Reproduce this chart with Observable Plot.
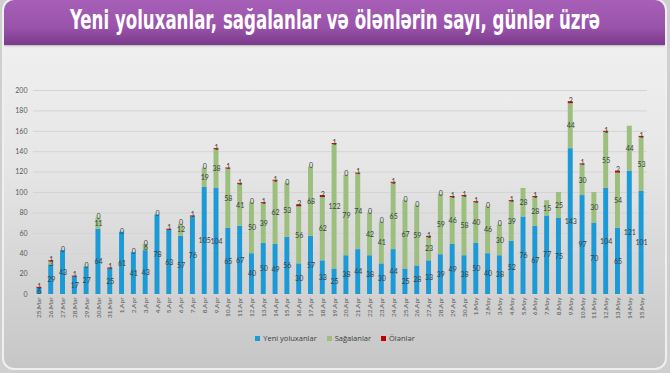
<!DOCTYPE html>
<html><head><meta charset="utf-8">
<script src="https://cdn.jsdelivr.net/npm/d3@7"></script>
<script src="https://cdn.jsdelivr.net/npm/@observablehq/plot@0.6"></script>
<style>
html,body{margin:0;padding:0}
body{width:670px;height:373px;overflow:hidden;background:#cfcfcf;position:relative;font-family:Lato,"Open Sans",sans-serif}
#panel{position:absolute;left:2px;top:-2px;width:665px;height:372px;border-radius:12px;background:linear-gradient(#f3f3f3 0%,#e6e6e6 45%,#c6c6c6 100%);border:2px solid #efefef;box-sizing:border-box;overflow:hidden}
#head{position:absolute;left:0;top:0;width:100%;height:45px;background:linear-gradient(#a75fb7 0%,#9a53aa 60%,#7a3b8b 100%);box-shadow:0 1px 2px rgba(0,0,0,0.25)}
#title{position:absolute;left:0;top:5px;white-space:nowrap;color:#fff;font-family:"Liberation Sans Narrow","DejaVu Sans Condensed","Roboto Condensed",Roboto,sans-serif;font-stretch:condensed;font-weight:bold;font-size:27px;line-height:30px;transform-origin:0 0}
#chart{position:absolute;left:0;top:48px}
#legend{position:absolute;left:0;top:332px;width:670px;text-align:center;font-size:7.5px;color:#404040;font-family:"Open Sans",Lato,sans-serif}
#legend span.it{display:inline-block;margin:0 5px;vertical-align:middle}
#legend i{display:inline-block;width:5px;height:5px;margin-right:3px;vertical-align:middle;position:relative;top:-1px}
</style></head>
<body>
<div id="panel"><div id="head"></div></div>
<div id="title">Yeni yoluxanlar, sağalanlar və ölənlərin sayı, günlər üzrə</div>
<div id="chart"></div>
<div id="legend"></div>
<script>
const dates = ["25.Mar","26.Mar","27.Mar","28.Mar","29.Mar","30.Mar","31.Mar",
"1.Apr","2.Apr","3.Apr","4.Apr","5.Apr","6.Apr","7.Apr","8.Apr","9.Apr","10.Apr",
"11.Apr","12.Apr","13.Apr","14.Apr","15.Apr","16.Apr","17.Apr","18.Apr","19.Apr","20.Apr",
"21.Apr","22.Apr","23.Apr","24.Apr","25.Apr","26.Apr","27.Apr","28.Apr","29.Apr","30.Apr",
"1.May","2.May","3.May","4.May","5.May","6.May","7.May","8.May","9.May","10.May",
"11.May","12.May","13.May","14.May","15.May"];
const infected = [6,29,43,17,27,64,25,
61,41,43,78,63,57,76,105,104,65,
67,40,50,49,56,30,57,33,25,38,
44,38,30,44,25,28,33,39,49,38,
50,40,38,52,76,67,77,75,143,97,
70,104,65,121,101];
const recovered = [0,3,0,0,0,11,0,
0,0,6,0,0,12,0,19,38,58,
41,50,39,62,53,56,68,62,122,79,
74,42,41,65,67,59,23,59,46,58,
40,46,30,39,28,28,15,25,44,30,
30,55,54,44,53];
const deaths = [1,1,0,1,0,0,1,
0,0,0,0,1,0,1,0,1,1,
1,0,1,1,0,2,0,2,1,0,
1,0,0,1,0,0,1,0,1,1,
1,0,0,1,null,1,null,null,2,1,
null,1,2,null,1];
const seriesNames = ["Yeni yoluxanlar","Sağalanlar","Ölənlər"];
const seriesColors = ["#1c9ad6","#9cbf7e","#c00000"];
const yTicks = [0,20,40,60,80,100,120,140,160,180,200];

const rows = [];
dates.forEach((d,i)=>{
  const vals = [infected[i], recovered[i], deaths[i] ?? 0];
  let base = 0;
  vals.forEach((v,k)=>{
    let label = "";
    if (k < 2) label = v > 0 ? String(v) : "";
    else label = deaths[i] == null ? "" : String(deaths[i]);
    rows.push({date:d, series:seriesNames[k], value:v, mid: base + v/2, top: base + v, label, k});
    base += v;
  });
});

const chart = Plot.plot({
  width: 670, height: 280,
  marginTop: 42, marginBottom: 34, marginLeft: 33, marginRight: 23,
  style: {background:"transparent", fontFamily:"Lato, 'Open Sans', sans-serif"},
  x: {domain: dates, paddingInner: 0.58, paddingOuter: 0.29, label: null, tickSize: 0, tickPadding: 3, tickRotate: -90},
  y: {domain: [0,200], ticks: yTicks, label: null, tickSize: 0, tickPadding: 6},
  color: {domain: seriesNames, range: seriesColors},
  marks: [
    Plot.ruleY(yTicks, {stroke:"#d4d4d4", strokeWidth:1}),
    Plot.barY(rows, {x:"date", y:"value", fill:"series"}),
    Plot.text(rows.filter(r=>r.k<2 && r.label), {x:"date", y:"mid", text:"label", fill:"#3a3f45", fontSize:7}),
    Plot.text(rows.filter(r=>r.k===2 && r.label), {x:"date", y:"top", text:"label", fill:"#3a3f45", fontSize:7, dy:-1})
  ]
});
const xl = chart.querySelector("[aria-label='x-axis tick label']");
if (xl) { xl.setAttribute("font-size","6.5"); xl.setAttribute("fill","#595959"); }
const yl = chart.querySelector("[aria-label='y-axis tick label']");
if (yl) { yl.setAttribute("font-size","7"); yl.setAttribute("fill","#595959"); }
document.getElementById("chart").appendChild(chart);

const lg = document.getElementById("legend");
seriesNames.forEach((n,i)=>{
  const s = document.createElement("span"); s.className="it";
  const sw = document.createElement("i"); sw.style.background = seriesColors[i];
  s.appendChild(sw); s.appendChild(document.createTextNode(n));
  lg.appendChild(s);
});

const t = document.getElementById("title");
const w = t.getBoundingClientRect().width;
const target = 530;
t.style.transform = `scaleX(${target/w})`;
t.style.left = (335 - target/2) + "px";
</script>
</body></html>
